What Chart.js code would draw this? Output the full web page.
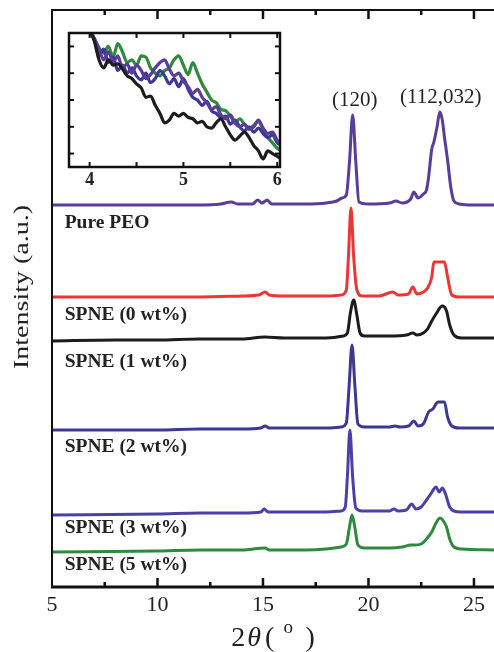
<!DOCTYPE html>
<html><head><meta charset="utf-8">
<script src="https://cdn.jsdelivr.net/npm/chart.js@4"></script>
<style>
html,body{margin:0;padding:0;background:#fff;}
#wrap{position:relative;width:494px;height:652px;overflow:hidden;}
#main{position:absolute;left:0;top:0;}
#inset{position:absolute;left:55px;top:25px;}
</style></head><body>
<div id="wrap">
<canvas id="main" width="494" height="652"></canvas>
<canvas id="inset" width="240" height="175"></canvas>
</div>
<script>
// ---------- data ----------
const X_TICKS = [5, 10, 15, 20, 25];
const X_MINOR = [7.5, 12.5, 17.5, 22.5];
const INSET_X_TICKS = [4, 5, 6];
const INSET_X_MINOR = [4.5, 5.5];
const INSET_Y_TICKS = [1, 3, 5, 7, 9];

const SERIES_NAMES = ["top", "Pure PEO", "SPNE (0 wt%)", "SPNE (1 wt%)", "SPNE (2 wt%)", "SPNE (5 wt%)"];
const COLORS = ["#5a3c9c", "#ee3535", "#1c1c1c", "#3d3894", "#4b40a8", "#2f8a3e"];

const topCurve = [[5,382],[8,382],[10,382],[12,382],[13,383],[13.5,385],[13.8,383],[14.5,383],[14.75,387],[14.95,384],[15.2,387],[15.4,383],[16,383],[17,383],[18,384],[18.5,386],[18.75,389],[18.95,392],[19.1,425],[19.25,472],[19.4,425],[19.55,385],[20,383],[21,384],[21.3,386],[21.6,384],[22.0,388],[22.15,395],[22.35,389],[22.6,393],[22.75,397],[22.85,410],[23.0,438],[23.1,445],[23.25,460],[23.38,475],[23.5,467],[23.6,450],[23.75,427],[23.9,400],[24.05,386],[24.3,383],[25,382],[26,382]];
const pureCurve = [[5,290],[8,290],[10,290],[12,290],[14,291],[14.8,292],[15.1,295],[15.3,292],[16,291],[17,291],[18,291],[18.7,292],[18.95,297],[19.05,330],[19.17,379],[19.3,330],[19.45,297],[19.7,291],[20.5,291],[21.16,295],[21.4,292],[21.9,293],[22.1,300],[22.3,293],[22.6,295],[22.8,299],[23.0,310],[23.1,325],[23.6,325],[23.75,310],[23.95,292],[24.3,290],[26,290]];
const wt0Curve = [[5,246],[8,247],[10,247],[12,248],[14,248],[15.1,250],[16,249],[17,249],[18,249],[18.8,251],[19.0,254],[19.15,275],[19.3,287],[19.45,272],[19.6,254],[19.8,251],[21,251],[21.8,252],[22.1,254],[22.3,252],[22.6,254],[22.8,258],[23.0,266],[23.2,273],[23.5,281],[23.7,276],[23.85,262],[24.05,252],[24.4,249],[26,249]];
const wt1Curve = [[5,157],[10,157],[12,158],[14,158],[14.9,159],[15.1,161],[15.3,159],[16,159],[17,159],[18,159],[18.7,160],[18.95,164],[19.08,200],[19.22,242],[19.36,200],[19.5,163],[19.8,160],[21,160],[21.25,161],[21.5,160],[21.9,161],[22.15,166],[22.35,161],[22.6,163],[22.85,175],[23.05,178],[23.3,185],[23.6,185],[23.75,170],[23.95,161],[24.3,159],[26,159]];
const wt2Curve = [[5,72],[10,73],[12,74],[14,74],[14.9,75],[15.05,78],[15.25,75],[16,75],[17,75],[18,75],[18.7,76],[18.9,80],[19.0,110],[19.12,157],[19.25,110],[19.4,79],[19.7,76],[21,76],[21.2,78],[21.4,76],[21.8,77],[22.05,83],[22.25,78],[22.5,80],[22.75,87],[22.95,93],[23.1,98],[23.2,100],[23.35,95],[23.5,99],[23.65,93],[23.85,80],[24.05,76],[24.4,75],[26,75]];
const wt5Curve = [[5,35],[10,36],[12,37],[14,37],[15.1,39],[15.3,37],[16,37],[17,37],[18,38],[18.7,40],[18.95,43],[19.1,60],[19.22,72],[19.35,60],[19.5,42],[19.8,39],[21,39],[21.6,40],[22.0,42],[22.2,42],[22.5,43],[22.75,48],[23.0,55],[23.2,64],[23.4,69],[23.55,66],[23.7,60],[23.85,48],[24.05,40],[24.4,38],[26,37]];
const MAIN_CURVES = [topCurve, pureCurve, wt0Curve, wt1Curve, wt2Curve, wt5Curve];

// curve labels: [text, x (2θ), y (a.u.)]
const CURVE_LABELS = [["Pure PEO",5.6,364],["SPNE (0 wt%)",5.6,272],["SPNE (1 wt%)",5.6,225],["SPNE (2 wt%)",5.6,140],["SPNE (3 wt%)",5.6,59],["SPNE (5 wt%)",5.6,22]];
const PEAK_LABELS = [["(120)",19.35,487],["(112,032)",23.43,490]];

// inset
const insetBlack = [[4.0,10.2],[4.05,9.4],[4.1,8.0],[4.15,7.4],[4.2,8.0],[4.25,7.6],[4.3,7.7],[4.4,6.8],[4.45,6.6],[4.5,6.2],[4.55,5.9],[4.6,5.2],[4.65,5.3],[4.7,4.6],[4.75,4.0],[4.8,3.3],[4.85,3.5],[4.9,4.0],[4.95,3.8],[5.0,4.0],[5.05,3.7],[5.1,3.6],[5.15,3.3],[5.2,3.4],[5.25,3.0],[5.3,2.9],[5.35,3.3],[5.4,3.6],[5.45,3.0],[5.5,2.4],[5.55,2.0],[5.6,2.3],[5.65,2.6],[5.7,2.2],[5.75,1.6],[5.8,1.2],[5.85,0.6],[5.9,1.2],[5.95,1.0],[6.0,0.8],[6.05,0.6]];
const insetGreen = [[4.0,10.2],[4.05,9.6],[4.1,8.9],[4.15,8.5],[4.2,9.0],[4.25,8.2],[4.3,9.2],[4.35,8.6],[4.4,7.8],[4.45,8.0],[4.5,7.6],[4.55,8.3],[4.6,8.2],[4.65,7.4],[4.7,7.0],[4.75,6.8],[4.8,7.2],[4.85,7.4],[4.9,8.0],[4.95,8.3],[5.0,7.6],[5.05,6.9],[5.1,7.8],[5.15,7.0],[5.2,6.2],[5.25,5.6],[5.3,5.0],[5.35,4.8],[5.4,4.3],[5.45,4.2],[5.5,3.8],[5.55,3.3],[5.6,3.6],[5.65,3.2],[5.7,2.9],[5.75,3.1],[5.8,3.4],[5.85,2.8],[5.9,2.2],[5.95,1.8],[6.0,1.4],[6.05,1.2]];
const insetPurple = [[4.0,10.2],[4.05,9.6],[4.1,8.8],[4.15,8.0],[4.2,8.6],[4.25,7.8],[4.3,8.3],[4.35,7.4],[4.4,7.7],[4.45,7.0],[4.5,7.6],[4.55,7.2],[4.6,6.6],[4.65,6.9],[4.7,7.4],[4.75,7.8],[4.8,8.0],[4.85,7.3],[4.9,6.8],[4.95,7.0],[5.0,6.4],[5.05,6.0],[5.1,5.5],[5.15,5.8],[5.2,5.2],[5.25,4.8],[5.3,4.3],[5.35,4.5],[5.4,3.9],[5.45,3.6],[5.5,3.9],[5.55,3.3],[5.6,3.0],[5.65,3.2],[5.7,2.8],[5.75,3.0],[5.8,3.5],[5.85,2.9],[5.9,2.5],[5.95,2.6],[6.0,2.0],[6.05,1.8]];
const insetIndigo = [[4.0,10.2],[4.05,9.5],[4.1,8.3],[4.15,8.8],[4.2,7.8],[4.25,8.2],[4.3,7.2],[4.35,7.6],[4.4,7.0],[4.45,7.4],[4.5,6.8],[4.55,6.5],[4.6,7.0],[4.65,6.3],[4.7,6.6],[4.75,7.2],[4.8,6.8],[4.85,6.2],[4.9,6.6],[4.95,6.0],[5.0,6.6],[5.05,5.8],[5.1,5.2],[5.15,5.0],[5.2,4.6],[5.25,4.9],[5.3,4.2],[5.35,4.0],[5.4,3.7],[5.45,3.8],[5.5,3.2],[5.55,3.5],[5.6,3.0],[5.65,2.7],[5.7,3.0],[5.75,2.6],[5.8,2.9],[5.85,2.5],[5.9,2.2],[5.95,2.4],[6.0,1.8],[6.05,1.6]];
const INSET_CURVES = [insetBlack, insetPurple, insetIndigo, insetGreen];
const INSET_COLORS = ["#1c1c1c", "#5a3c9c", "#3d3894", "#2f8a3e"];

// ---------- helpers ----------
const SERIF = '"Liberation Serif","Times New Roman",serif';
const toPts = a => a.map(p => ({x: p[0], y: p[1]}));

function drawTicks(ctx, area, xs, vals, len, side) {
  vals.forEach(v => {
    const px = xs.getPixelForValue(v);
    ctx.beginPath();
    if (side === 'bottom') { ctx.moveTo(px, area.bottom); ctx.lineTo(px, area.bottom - len); }
    else { ctx.moveTo(px, area.top); ctx.lineTo(px, area.top + len); }
    ctx.stroke();
  });
}

const mainDeco = {
  id: 'mainDeco',
  afterDatasetsDraw(chart) {
    const {ctx, chartArea: a, scales: {x, y}} = chart;
    ctx.save();
    ctx.strokeStyle = '#111';
    ctx.lineWidth = 2;
    ctx.beginPath();
    ctx.moveTo(a.left, a.bottom); ctx.lineTo(a.left, a.top); ctx.lineTo(a.right + 5, a.top);
    ctx.stroke();
    ctx.lineWidth = 3;
    ctx.beginPath(); ctx.moveTo(a.left - 1, a.bottom); ctx.lineTo(a.right + 5, a.bottom); ctx.stroke();
    ctx.lineWidth = 2.5;
    drawTicks(ctx, a, x, X_TICKS.slice(1), 9, 'bottom');
    drawTicks(ctx, a, x, X_MINOR, 5, 'bottom');
    drawTicks(ctx, a, x, X_TICKS.slice(1), 9, 'top');
    drawTicks(ctx, a, x, X_MINOR, 5, 'top');

    // curve labels
    ctx.fillStyle = '#222';
    ctx.textBaseline = 'middle';
    ctx.textAlign = 'left';
    ctx.font = 'bold 19.5px ' + SERIF;
    CURVE_LABELS.forEach(l => ctx.fillText(l[0], x.getPixelForValue(l[1]), y.getPixelForValue(l[2])));
    ctx.textAlign = 'center';
    ctx.font = '21px ' + SERIF;
    PEAK_LABELS.forEach(l => ctx.fillText(l[0], x.getPixelForValue(l[1]), y.getPixelForValue(l[2])));

    // y title
    ctx.save();
    ctx.translate(23, 287);
    ctx.rotate(-Math.PI / 2);
    ctx.scale(1, 0.72);
    ctx.font = '28px ' + SERIF;
    ctx.textAlign = 'center';
    ctx.textBaseline = 'middle';
    ctx.fillText('Intensity (a.u.)', 0, 0);
    ctx.restore();

    // x title 2θ( ° )
    ctx.textBaseline = 'alphabetic';
    ctx.textAlign = 'left';
    const base = 646;
    ctx.font = '28px ' + SERIF;
    const w2 = ctx.measureText('2').width;
    ctx.font = 'italic 28px ' + SERIF;
    const wt = ctx.measureText('θ').width;
    ctx.font = '28px ' + SERIF;
    const wp = ctx.measureText('(').width;
    const total = w2 + 2 + wt + 4 + wp + 9 + 13 + 9 + wp;
    let cx = 273 - total / 2;
    ctx.fillText('2', cx, base); cx += w2 + 2;
    ctx.font = 'italic 28px ' + SERIF; ctx.fillText('θ', cx, base); cx += wt + 4;
    ctx.font = '28px ' + SERIF; ctx.fillText('(', cx, base); cx += wp + 9;
    ctx.font = '19px ' + SERIF; ctx.fillText('o', cx, base - 13); cx += 13 + 9;
    ctx.font = '28px ' + SERIF; ctx.fillText(')', cx, base);
    ctx.restore();
  }
};

new Chart(document.getElementById('main'), {
  type: 'line',
  data: {
    datasets: MAIN_CURVES.map((c, i) => ({
      label: SERIES_NAMES[i], data: toPts(c), borderColor: COLORS[i],
      borderWidth: 3, pointRadius: 0, cubicInterpolationMode: 'monotone', fill: false,
      borderJoinStyle: 'round', borderCapStyle: 'round'
    }))
  },
  options: {
    responsive: false, animation: false, events: [],
    layout: {padding: {top: 10, left: 52, right: 0, bottom: 0}},
    plugins: {legend: {display: false}, tooltip: {enabled: false}},
    scales: {
      x: {
        type: 'linear', min: 5, max: 25.95,
        afterBuildTicks: s => { s.ticks = X_TICKS.map(v => ({value: v})); },
        afterFit: s => { s.height = 65; },
        grid: {display: false, drawTicks: false}, border: {display: false},
        ticks: {font: {family: SERIF, size: 22}, color: '#222', padding: 5, maxRotation: 0, autoSkip: false}
      },
      y: {type: 'linear', min: 0, max: 577, display: false}
    }
  },
  plugins: [mainDeco]
});

const insetDeco = {
  id: 'insetDeco',
  afterDatasetsDraw(chart) {
    const {ctx, chartArea: a, scales: {x, y}} = chart;
    ctx.save();
    ctx.strokeStyle = '#111';
    ctx.lineWidth = 2.5;
    ctx.strokeRect(a.left, a.top, a.right - a.left, a.bottom - a.top);
    ctx.lineWidth = 2;
    drawTicks(ctx, a, x, INSET_X_TICKS.concat(INSET_X_MINOR), 5, 'bottom');
    drawTicks(ctx, a, x, INSET_X_TICKS.concat(INSET_X_MINOR), 5, 'top');
    INSET_Y_TICKS.forEach(v => {
      const py = y.getPixelForValue(v);
      ctx.beginPath(); ctx.moveTo(a.left, py); ctx.lineTo(a.left + 5, py); ctx.stroke();
      ctx.beginPath(); ctx.moveTo(a.right, py); ctx.lineTo(a.right - 5, py); ctx.stroke();
    });
    ctx.restore();
  }
};

new Chart(document.getElementById('inset'), {
  type: 'line',
  data: {
    datasets: INSET_CURVES.map((c, i) => ({
      data: toPts(c), borderColor: INSET_COLORS[i], borderWidth: 3.2,
      pointRadius: 0, cubicInterpolationMode: 'monotone', fill: false, borderJoinStyle: 'round'
    }))
  },
  options: {
    responsive: false, animation: false, events: [],
    layout: {padding: {top: 8, left: 14, right: 15, bottom: 0}},
    plugins: {legend: {display: false}, tooltip: {enabled: false}},
    scales: {
      x: {
        type: 'linear', min: 3.78, max: 6.03,
        afterBuildTicks: s => { s.ticks = INSET_X_TICKS.map(v => ({value: v})); },
        afterFit: s => { s.height = 33; },
        grid: {display: false, drawTicks: false}, border: {display: false},
        ticks: {font: {family: SERIF, size: 18, weight: 'bold'}, color: '#222', padding: 3, maxRotation: 0, autoSkip: false}
      },
      y: {type: 'linear', min: 0, max: 10, display: false}
    }
  },
  plugins: [insetDeco]
});
</script>
</body></html>
